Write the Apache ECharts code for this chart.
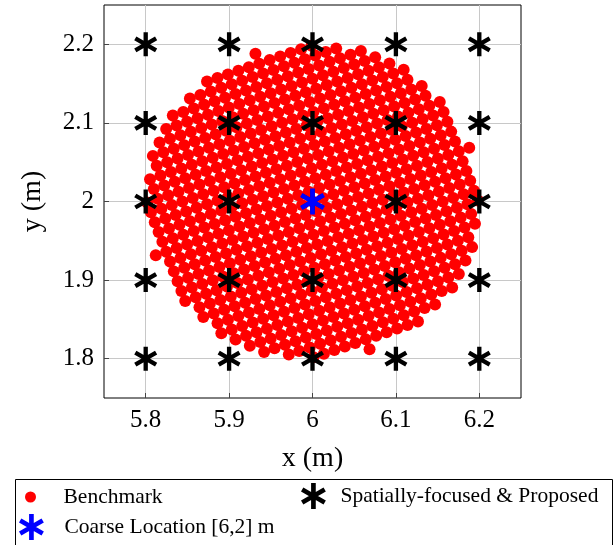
<!DOCTYPE html>
<html>
<head>
<meta charset="utf-8">
<script src="https://cdn.jsdelivr.net/npm/echarts@6/dist/echarts.min.js"></script>
<style>
  html, body { margin: 0; padding: 0; background: #fff; }
  #chart { width: 613px; height: 545px; }
</style>
</head>
<body>
<div id="chart"></div>
<script>
// Axis tick values (m)
const xTicks = [5.8, 5.9, 6.0, 6.1, 6.2];
const yTicks = [1.8, 1.9, 2.0, 2.1, 2.2];

// Spatially-focused & Proposed candidate positions (grid columns / rows)
const proposedX = [5.8, 5.9, 6.0, 6.1, 6.2];
const proposedY = [1.8, 1.9, 2.0, 2.1, 2.2];

// Coarse location estimate
const coarseLocation = [6, 2];

// Benchmark search grid: square lattice around the coarse location,
// rotated by latticeAngleDeg, one entry per lattice row (row -15 ... 15)
const latticeCenter = [6, 2];
const latticeStep = 0.013333;
const latticeAngleDeg = 20;
const rowIndex = [-15, -14, -13, -12, -11, -10, -9, -8, -7, -6, -5, -4, -3, -2, -1, 0,
                  1, 2, 3, 4, 5, 6, 7, 8, 9, 10, 11, 12, 13, 14, 15];
const rowHalfCount = [0, 5, 7, 9, 10, 11, 12, 12, 13, 13, 14, 14, 14, 14, 14, 15,
                      14, 14, 14, 14, 14, 13, 13, 12, 12, 11, 10, 9, 7, 5, 0];

const rad = latticeAngleDeg * Math.PI / 180;
const ca = Math.cos(rad), sa = Math.sin(rad);
const benchmarkData = [];
rowIndex.forEach((k, r) => {
  const m = rowHalfCount[r];
  for (let i = -m; i <= m; i++) {
    benchmarkData.push([
      latticeCenter[0] + latticeStep * (i * ca - k * sa),
      latticeCenter[1] + latticeStep * (i * sa + k * ca)
    ]);
  }
});

const proposedData = [];
proposedY.forEach(y => proposedX.forEach(x => proposedData.push([x, y])));

// Six-armed asterisk built from three overlapping bars
const asterisk = 'path://M-1.8,-10L1.8,-10L1.8,10L-1.8,10Z' +
  'M7.76,-6.559L9.56,-3.441L-7.76,6.559L-9.56,3.441Z' +
  'M9.56,3.441L7.76,6.559L-9.56,-3.441L-7.76,-6.559Z';

const serif = '"Liberation Serif", "DejaVu Serif", serif';

const chart = echarts.init(document.getElementById('chart'), null, { renderer: 'canvas' });

chart.setOption({
  animation: false,
  backgroundColor: '#ffffff',
  grid: {
    left: 104, right: 92, top: 5, bottom: 147,
    show: true, borderColor: '#000', borderWidth: 1, backgroundColor: 'transparent'
  },
  xAxis: {
    type: 'value', min: 5.75, max: 6.25,
    name: 'x (m)', nameLocation: 'middle', nameGap: 47,
    nameTextStyle: { fontFamily: serif, fontSize: 28, color: '#000' },
    axisLine: { show: false },
    axisTick: { show: true, inside: true, length: 5, customValues: xTicks, lineStyle: { color: '#444' } },
    axisLabel: { customValues: xTicks, fontFamily: serif, fontSize: 25, color: '#000', margin: 10,
                 formatter: v => String(+v.toFixed(1)) },
    splitLine: { show: true, lineStyle: { color: '#c8c8c8', width: 1 } }
  },
  yAxis: {
    type: 'value', min: 1.75, max: 2.25,
    name: 'y (m)', nameLocation: 'middle', nameGap: 57, nameRotate: 90,
    nameTextStyle: { fontFamily: serif, fontSize: 28, color: '#000' },
    axisLine: { show: false },
    axisTick: { show: true, inside: true, length: 5, customValues: yTicks, lineStyle: { color: '#444' } },
    axisLabel: { customValues: yTicks, fontFamily: serif, fontSize: 25, color: '#000', margin: 10,
                 formatter: v => String(+v.toFixed(1)) },
    splitLine: { show: true, lineStyle: { color: '#c8c8c8', width: 1 } }
  },
  legend: [
    {
      left: 20, top: 481, itemWidth: 56, itemHeight: 11, itemGap: 0,
      data: [{ name: 'Benchmark', icon: 'circle' }],
      textStyle: { fontFamily: serif, fontSize: 21.5, color: '#000' }
    },
    {
      left: 296, top: 478, itemWidth: 44, itemHeight: 26, itemGap: 0,
      data: [{ name: 'Spatially-focused & Proposed', icon: asterisk }],
      textStyle: { fontFamily: serif, fontSize: 21.5, color: '#000' }
    },
    {
      left: 14, top: 509, itemWidth: 56, itemHeight: 26, itemGap: 0,
      data: [{ name: 'Coarse Location [6,2] m', icon: asterisk }],
      textStyle: { fontFamily: serif, fontSize: 21.5, color: '#000' }
    }
  ],
  graphic: [
    {
      type: 'rect', left: 13, top: 477, silent: true,
      shape: { width: 597, height: 80 },
      style: { fill: 'none', stroke: '#000', lineWidth: 1 }
    }
  ],
  series: [
    {
      name: 'Benchmark', type: 'scatter', z: 2,
      symbol: 'circle', symbolSize: 12,
      itemStyle: { color: '#ff0000', opacity: 1 },
      data: benchmarkData
    },
    {
      name: 'Spatially-focused & Proposed', type: 'scatter', z: 3,
      symbol: asterisk, symbolSize: 24, symbolKeepAspect: true,
      itemStyle: { color: '#000000', opacity: 1 },
      data: proposedData
    },
    {
      name: 'Coarse Location [6,2] m', type: 'scatter', z: 4,
      symbol: asterisk, symbolSize: 26, symbolKeepAspect: true,
      itemStyle: { color: '#0000ff', opacity: 1 },
      data: [coarseLocation]
    }
  ]
});
</script>
</body>
</html>
